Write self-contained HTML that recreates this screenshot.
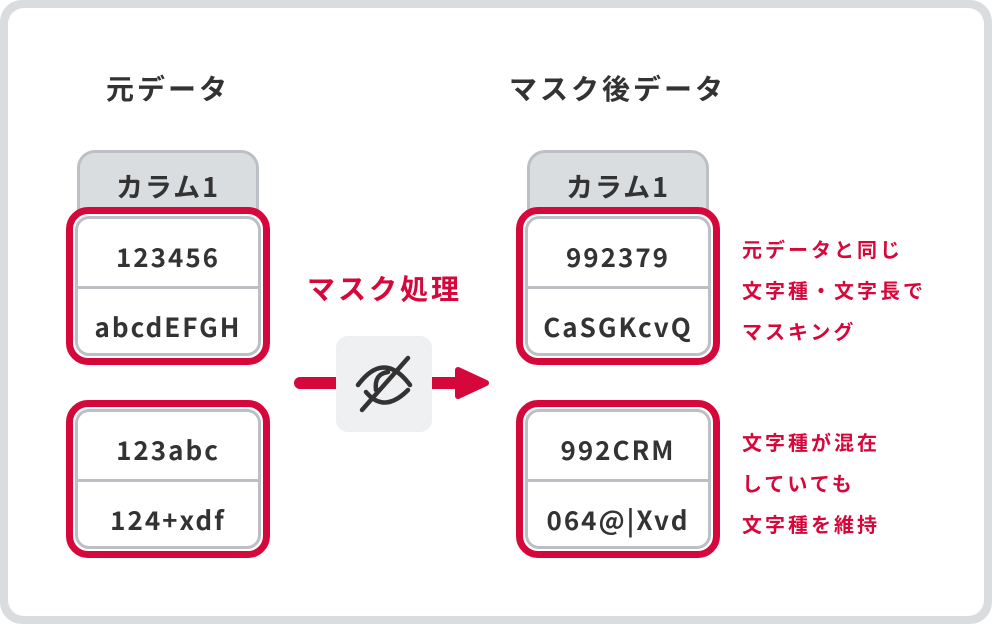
<!DOCTYPE html>
<html><head><meta charset="utf-8"><style>
*{margin:0;padding:0;box-sizing:border-box}
body{width:992px;height:624px;background:#fff;font-family:"Liberation Sans","Noto Sans CJK JP",sans-serif;position:relative;overflow:hidden}
.frame{position:absolute;left:0;top:0;width:992px;height:624px;border-radius:22px;background:#dadde0}
.inner{position:absolute;left:8px;top:8px;width:976px;height:608px;border-radius:16px;background:#fff}
.abs{position:absolute}
.title{font-size:28px;font-weight:bold;color:#333;letter-spacing:3px;font-family:"Noto Sans CJK JP",sans-serif;line-height:40px}
.hdr{position:absolute;width:182px;height:72px;background:#dadde0;border:3px solid #bcc0c4;border-radius:18px 18px 0 0;text-align:center;font-size:27px;font-weight:bold;color:#333;line-height:66px;letter-spacing:2px;font-family:"Noto Sans CJK JP",sans-serif}
.red{position:absolute;width:204px;height:158px;border:7px solid #d6073b;border-radius:22px;background:#fff}
.box{position:absolute;left:2px;top:2px;right:2px;bottom:2px;border:3px solid #bcc0c4;border-radius:14px;background:#fff}
.cell{height:68px;text-align:center;line-height:76px;font-size:26px;font-weight:bold;color:#333;letter-spacing:2px;font-family:"Noto Sans CJK JP",sans-serif}
.cell.t{border-bottom:3px solid #bcc0c4;height:70px}
.note{position:absolute;color:#d6073b;font-size:20px;font-weight:bold;line-height:41px;letter-spacing:3px;font-family:"Noto Sans CJK JP",sans-serif}
</style></head><body>
<div class="frame"></div><div class="inner"></div>
<div class="abs title" style="left:106px;top:68px">元データ</div>
<div class="abs title" style="left:509px;top:68px">マスク後データ</div>

<div class="hdr" style="left:77px;top:150px">カラム1</div>
<div class="red" style="left:66px;top:207px"><div class="box"><div class="cell t">123456</div><div class="cell">abcdEFGH</div></div></div>
<div class="red" style="left:66px;top:400px"><div class="box"><div class="cell t">123abc</div><div class="cell">124+xdf</div></div></div>

<div class="hdr" style="left:527px;top:150px">カラム1</div>
<div class="red" style="left:516px;top:207px"><div class="box"><div class="cell t">992379</div><div class="cell">CaSGKcvQ</div></div></div>
<div class="red" style="left:516px;top:400px"><div class="box"><div class="cell t">992CRM</div><div class="cell">064@|Xvd</div></div></div>

<div class="abs" style="left:307px;top:268px;color:#d6073b;font-size:28px;font-weight:bold;letter-spacing:3px;font-family:'Noto Sans CJK JP',sans-serif;line-height:40px">マスク処理</div>

<svg class="abs" style="left:290px;top:330px" width="210" height="110">
<line x1="10" y1="53" x2="50" y2="53" stroke="#d6073b" stroke-width="12" stroke-linecap="round"/>
<line x1="140" y1="53" x2="170" y2="53" stroke="#d6073b" stroke-width="12"/>
<path d="M168 40 L196 53 L168 66 Z" fill="#d6073b" stroke="#d6073b" stroke-width="6" stroke-linejoin="round"/>
<rect x="46" y="6" width="96" height="96" rx="12" fill="#eff0f2"/>
<g fill="none" stroke="#333" stroke-width="4.5" stroke-linecap="round">
<path d="M68 55 Q94 20 120 55"/>
<path d="M76 62 Q94 84 118 60"/>
<path d="M86 60 Q84 44 98 42"/>
<line x1="72" y1="80" x2="118" y2="28"/>
</g>
</svg>

<div class="note" style="left:742px;top:228px">元データと同じ<br>文字種・文字長で<br>マスキング</div>
<div class="note" style="left:742px;top:421px">文字種が混在<br>していても<br>文字種を維持</div>
</body></html>
